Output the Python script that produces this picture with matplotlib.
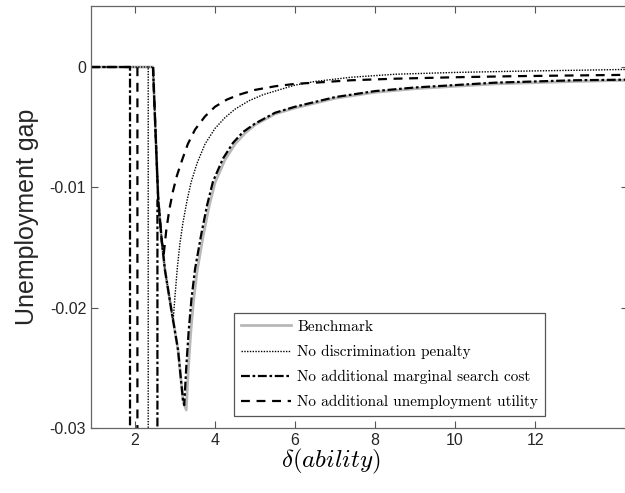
import numpy as np
import matplotlib
matplotlib.use("Agg")
import matplotlib.pyplot as plt

nan = np.nan

# left side of the dip, shared by all curves
diag_x = [2.45, 2.52, 2.58, 2.67, 2.75, 2.9, 3.075, 3.2]
diag_y = [0.0, -0.006, -0.011, -0.0145, -0.0169, -0.0200, -0.0235, -0.0277]

bench_x = [0.9] + diag_x + [3.28, 3.33, 3.39, 3.46, 3.55, 3.7, 3.85, 4.0, 4.25, 4.5, 4.75,
                            5.0, 5.5, 6.0, 6.5, 7.0, 8.0, 9.0, 10.0, 11.0, 12.0, 13.0, 14.3]
bench_y = [0.0] + diag_y + [-0.0285, -0.0252, -0.0222, -0.0195, -0.0170, -0.0141, -0.0116,
                            -0.0096, -0.0077, -0.0064, -0.0055, -0.0048, -0.0039, -0.0034,
                            -0.0030, -0.0026, -0.0021, -0.0018, -0.0016, -0.0014, -0.0013,
                            -0.0012, -0.0011]

search_x = [0.9, 1.875, 1.875, 2.56, 2.56, nan] + diag_x + [3.23, 3.28, 3.34, 3.41, 3.5, 3.65,
                                                          3.8, 3.95, 4.2, 4.45, 4.7, 5.0, 5.5,
                                                          6.0, 6.5, 7.0, 8.0, 9.0, 10.0, 11.0,
                                                          12.0, 13.0, 14.3]
search_y = [0.0, 0.0, -0.06, -0.06, -0.011, nan] + diag_y + [-0.0281, -0.0250, -0.0220, -0.0193,
                                                           -0.0168, -0.0140, -0.0115, -0.0095,
                                                           -0.0076, -0.0063, -0.0054, -0.0047,
                                                           -0.0038, -0.0033, -0.0029, -0.0025,
                                                           -0.0020, -0.0017, -0.0015, -0.0013,
                                                           -0.0012, -0.0011, -0.00105]

disc_x = [0.9, 2.33, 2.33, nan, 2.33] + diag_x[:6] + [2.95, 3.0, 3.06, 3.125, 3.2, 3.3, 3.4,
                                                    3.55, 3.75, 4.0, 4.25, 4.5, 4.85, 5.2, 5.6,
                                                    6.0, 6.5, 7.4, 8.5, 10.0, 11.5, 13.0, 14.3]
disc_y = [0.0, 0.0, -0.06, nan, 0.0] + diag_y[:6] + [-0.0212, -0.0190, -0.0166, -0.0146, -0.0129,
                                                   -0.0111, -0.0096, -0.0080, -0.0064, -0.0051,
                                                   -0.0042, -0.0035, -0.0028, -0.0023, -0.0019,
                                                   -0.0015, -0.0012, -0.00085, -0.0006,
                                                   -0.00045, -0.00035, -0.00027, -0.0002]

util_x = [0.9, 2.06, 2.06, nan] + diag_x[:4] + [2.72, 2.78, 2.86, 2.95, 3.05, 3.18, 3.32, 3.5,
                                               3.75, 4.0, 4.3, 4.6, 5.0, 5.5, 6.0, 6.5, 7.4, 8.5,
                                               10.0, 11.5, 13.0, 14.3]
util_y = [0.0, 0.0, -0.06, nan] + diag_y[:4] + [-0.0155, -0.0136, -0.0118, -0.0103, -0.0090,
                                               -0.0077, -0.0064, -0.0052, -0.0041, -0.0033,
                                               -0.0027, -0.0023, -0.0019, -0.0016, -0.0014,
                                               -0.0013, -0.0011, -0.00097, -0.00085, -0.00076,
                                               -0.0007, -0.00065]

labels = ["Benchmark", "No discrimination penalty",
          "No additional marginal search cost", "No additional unemployment utility"]
xticks = [2, 4, 6, 8, 10, 12]
yticks = [0, -0.01, -0.02, -0.03]
ytick_labels = ["0", "-0.01", "-0.02", "-0.03"]

plt.rcParams["mathtext.fontset"] = "cm"
fig = plt.figure(figsize=(6.25, 4.93), dpi=100)
ax = fig.add_axes([0.1456, 0.1318, 0.8594, 0.856])

ax.plot(bench_x, bench_y, color="#b8b8b8", lw=2.0, label=labels[0])
ax.plot(disc_x, disc_y, color="black", lw=1.0, linestyle=(0, (1, 1)), label=labels[1])
ax.plot(search_x, search_y, color="black", lw=1.6, linestyle=(0, (4, 1.2, 1.2, 1.2)), label=labels[2])
ax.plot(util_x, util_y, color="black", lw=1.6, linestyle=(0, (4, 3)), label=labels[3])

ax.set_xlim(0.9, 14.325)
ax.set_ylim(-0.03, 0.00507)
ax.set_xticks(xticks)
ax.set_yticks(yticks)
ax.set_yticklabels(ytick_labels)
for lab in ax.get_xticklabels() + ax.get_yticklabels():
    lab.set_family("Liberation Sans")
    lab.set_fontsize(11.5)
    lab.set_color("#262626")
ax.tick_params(direction="in", length=5, width=0.8, color="#555555", top=True, right=True)
for s in ax.spines.values():
    s.set_color("#666666")
    s.set_linewidth(0.9)

ax.set_ylabel("Unemployment gap", family="Liberation Sans", fontsize=18, color="#262626", labelpad=8)
ax.set_xlabel(r"$\delta(ability)$", fontsize=18, labelpad=2)
ax.xaxis.set_label_coords(0.447, -0.045, transform=ax.transAxes)
ax.xaxis.label.set_va("top")

leg = ax.legend(loc="lower right", bbox_to_anchor=(0.845, 0.028), prop={"family": "cmr10", "size": 11},
                fancybox=False, framealpha=1, edgecolor="#555555", handlelength=3.3,
                handletextpad=0.4, labelspacing=0.72, borderpad=0.45, borderaxespad=0)
leg.get_frame().set_linewidth(0.9)

fig.savefig("out.png", dpi=100)
